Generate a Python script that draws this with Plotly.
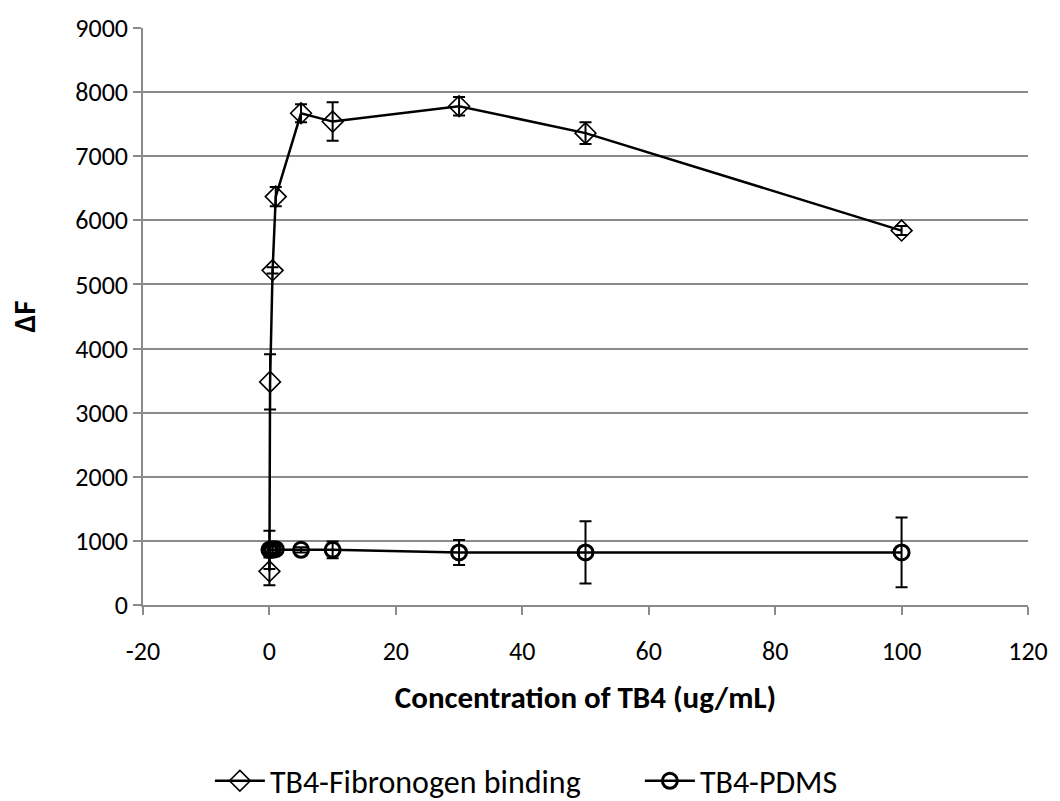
import plotly.graph_objects as go

# Data
conc = [0, 0.1, 0.5, 1, 5, 10, 30, 50, 100]

fib_y = [525, 3480, 5220, 6370, 7670, 7540, 7780, 7360, 5840]
fib_err = [215, 430, 50, 150, 140, 300, 145, 170, 70]

pdms_y = [860, 860, 870, 870, 860, 860, 820, 820, 820]
pdms_err = [300, 50, 50, 80, 40, 130, 195, 485, 545]

x_ticks = [-20, 0, 20, 40, 60, 80, 100, 120]
y_ticks = [0, 1000, 2000, 3000, 4000, 5000, 6000, 7000, 8000, 9000]

FONT = "Carlito, Calibri, Lato, sans-serif"
GRID = "#8a8a8a"

fig = go.Figure()

fig.add_trace(go.Scatter(
    x=conc, y=fib_y, name="TB4-Fibronogen binding",
    mode="lines+markers",
    line=dict(color="black", width=2.5),
    marker=dict(symbol="diamond-open", size=16, color="black", line=dict(width=1.6, color="black")),
    error_y=dict(type="data", array=fib_err, visible=True, color="black", thickness=2, width=6),
))

fig.add_trace(go.Scatter(
    x=conc, y=pdms_y, name="TB4-PDMS",
    mode="lines+markers",
    line=dict(color="black", width=2.5),
    marker=dict(symbol="circle-open", size=15, color="black", line=dict(width=3, color="black")),
    error_y=dict(type="data", array=pdms_err, visible=True, color="black", thickness=2, width=6),
))

fig.update_layout(
    width=1060, height=801,
    margin=dict(l=143, r=29, t=19, b=196),
    paper_bgcolor="white", plot_bgcolor="white",
    font=dict(family=FONT, color="black", size=26),
    showlegend=True,
    legend=dict(
        orientation="h", xref="container", yref="container",
        x=0.198, xanchor="left", y=0.025, yanchor="middle",
        font=dict(size=32, family=FONT), itemwidth=50, entrywidth=365,
        bgcolor="rgba(0,0,0,0)",
    ),
    xaxis=dict(
        range=[-20, 120], tickvals=x_ticks, ticktext=[str(v) for v in x_ticks],
        showgrid=False, zeroline=False,
        showline=True, linecolor=GRID, linewidth=1.5,
        ticks="outside", ticklen=8, tickcolor=GRID, tickwidth=1.5,
        ticklabelstandoff=14,
        tickfont=dict(size=26, family=FONT),
        title=dict(text="<b>Concentration of TB4 (ug/mL)</b>", font=dict(size=31, family=FONT), standoff=20),
    ),
    yaxis=dict(
        range=[0, 9000], tickvals=y_ticks, ticktext=[str(v) for v in y_ticks],
        showgrid=True, gridcolor=GRID, gridwidth=1.5, zeroline=False,
        showline=True, linecolor=GRID, linewidth=1.5,
        ticks="outside", ticklen=8, tickcolor=GRID, tickwidth=1.5,
        ticklabelstandoff=0,
        tickfont=dict(size=26, family=FONT),
        title=dict(text="<b>ΔF</b>", font=dict(size=31, family=FONT), standoff=30),
    ),
)

fig.write_html("out.html")
